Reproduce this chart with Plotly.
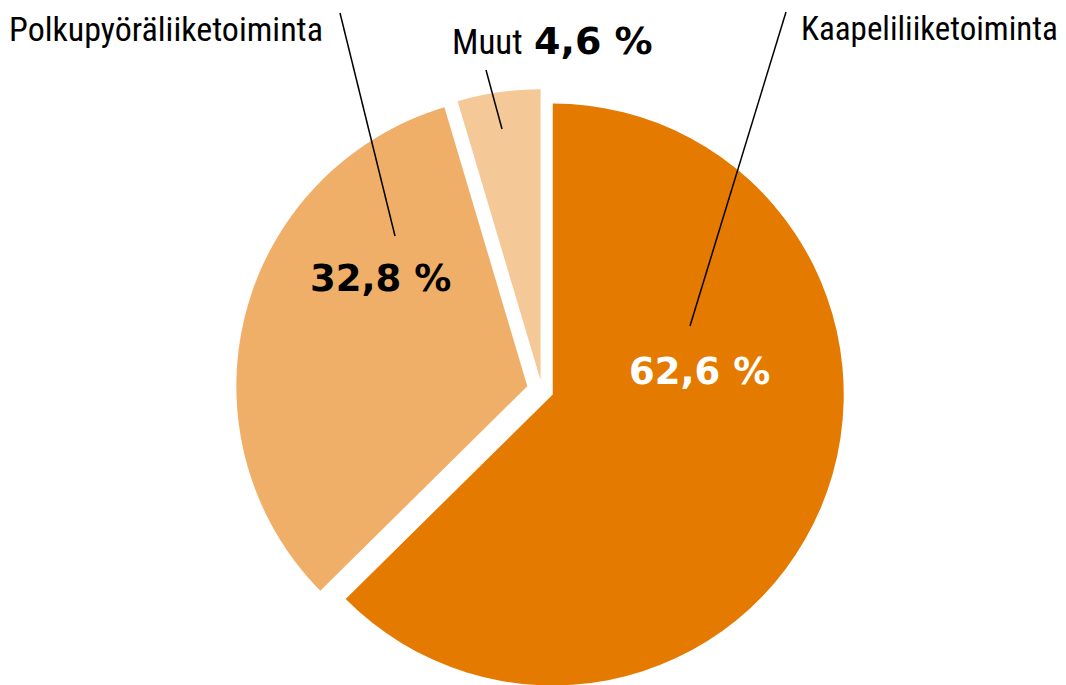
import plotly.graph_objects as go

# ---- data ----
labels = ["Kaapeliliiketoiminta", "Polkupyöräliiketoiminta", "Muut"]
values = [62.6, 32.8, 4.6]
colors = ["#E57A00", "#F0AF68", "#F5C897"]
pulls = [0.04, 0.052, 0.034]

# page body has an 8px margin -> figure sits at (8, 8) in the window
OFF = 8
# pie placement (window pixels)
cx, cy, radius = 542, 390, 291
half = radius * (1 + max(pulls))

W = 1066 - OFF
H = int(round(cy + half - OFF)) + 1  # lower edge of pie box may run past the window bottom


def fx(x):
    return (x - OFF) / W


def fy(y):
    return 1 - (y - OFF) / H


def pct(v):
    return f"{v:.1f}".replace(".", ",") + " %"


fig = go.Figure(go.Pie(
    labels=labels,
    values=values,
    sort=False,
    direction="clockwise",
    rotation=0,
    pull=pulls,
    marker=dict(colors=colors, line=dict(color="white", width=0)),
    textinfo="none",
    hoverinfo="label+percent",
    showlegend=False,
    domain=dict(x=[fx(cx - half), fx(cx + half)], y=[max(0, fy(cy + half)), fy(cy - half)]),
))

label_font = "Liberation Sans Narrow, Roboto Condensed, Arial Narrow, DejaVu Sans Condensed, sans-serif"
bold_font = "DejaVu Sans"

annotations = [
    dict(text=labels[0], x=fx(800), y=fy(8), xanchor="left", yanchor="top",
         font=dict(family=label_font, size=33, color="black")),
    dict(text=labels[1], x=fx(324), y=fy(8), xanchor="right", yanchor="top",
         font=dict(family=label_font, size=34, color="black")),
    dict(text=labels[2], x=fx(451), y=fy(42), xanchor="left", yanchor="middle",
         font=dict(family=label_font, size=35, color="black")),
    dict(text="<b>" + pct(values[2]) + "</b>", x=fx(533), y=fy(41), xanchor="left", yanchor="middle",
         font=dict(family=bold_font, size=38, color="black")),
    dict(text="<b>" + pct(values[0]) + "</b>", x=fx(699), y=fy(371), xanchor="center", yanchor="middle",
         font=dict(family=bold_font, size=37, color="white")),
    dict(text="<b>" + pct(values[1]) + "</b>", x=fx(380), y=fy(278), xanchor="center", yanchor="middle",
         font=dict(family=bold_font, size=37, color="black")),
]
for a in annotations:
    a.update(xref="paper", yref="paper", showarrow=False, borderpad=0)

leaders = [((786, 12), (690, 326)), ((340, 13), (395, 236)), ((486, 70), (502, 129))]
shapes = [dict(type="line", xref="paper", yref="paper",
               x0=fx(a[0]), y0=fy(a[1]), x1=fx(b[0]), y1=fy(b[1]),
               line=dict(color="black", width=1.5)) for a, b in leaders]

fig.update_layout(
    width=W, height=H,
    margin=dict(l=0, r=0, t=0, b=0),
    paper_bgcolor="white", plot_bgcolor="white",
    annotations=annotations, shapes=shapes,
)

fig.write_html("out.html")
